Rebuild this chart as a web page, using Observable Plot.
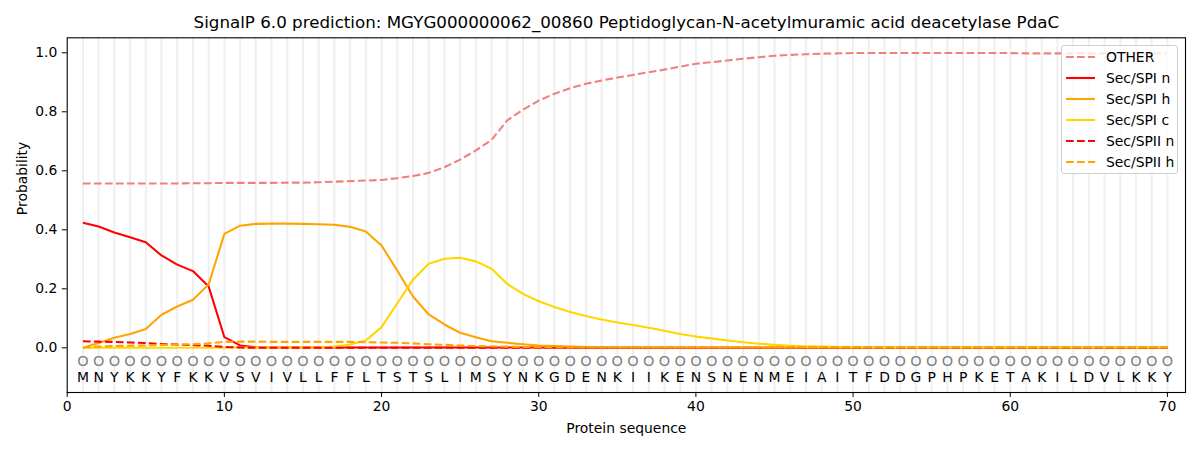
<!DOCTYPE html>
<html>
<head>
<meta charset="utf-8">
<script src="https://cdn.jsdelivr.net/npm/d3@7"></script>
<script src="https://cdn.jsdelivr.net/npm/@observablehq/plot@0.6"></script>
<style>
  body { margin: 0; background: #fff; font-family: "DejaVu Sans", sans-serif; }
  #wrap { position: relative; width: 1200px; height: 450px; }
  #legend { position: absolute; left: 1061px; top: 45px; width: 115px; height: 127px;
            border: 1px solid #d0d0d0; border-radius: 3px; background: rgba(255,255,255,0.8);
            font-family: "DejaVu Sans", sans-serif; font-size: 13.9px; color: #000; }
  .row { position: absolute; left: 0; height: 20px; display: flex; align-items: center; }
  .row svg { margin-left: 4px; margin-right: 11px; }
</style>
</head>
<body>
<div id="wrap"></div>
<script>
const title = "SignalP 6.0 prediction: MGYG000000062_00860 Peptidoglycan-N-acetylmuramic acid deacetylase PdaC";
const sequence = ["M","N","Y","K","K","Y","F","K","K","V","S","V","I","V","L","L","F","F","L","T",
  "S","T","S","L","I","M","S","Y","N","K","G","D","E","N","K","I","I","K","E","N",
  "S","N","E","N","M","E","I","A","I","T","F","D","D","G","P","H","P","K","E","T",
  "A","K","I","L","D","V","L","K","K","Y"];
const regionLabels = sequence.map(() => "O");
const seriesNames = ["OTHER", "Sec/SPI n", "Sec/SPI h", "Sec/SPI c", "Sec/SPII n", "Sec/SPII h"];

const other = [0.557,0.557,0.557,0.557,0.557,0.557,0.557,0.558,0.558,0.559,
  0.559,0.559,0.559,0.560,0.560,0.561,0.563,0.565,0.567,0.569,
  0.575,0.582,0.593,0.612,0.638,0.669,0.705,0.771,0.807,0.838,
  0.861,0.880,0.895,0.906,0.916,0.925,0.934,0.943,0.953,0.963,
  0.968,0.974,0.980,0.985,0.990,0.993,0.995,0.997,0.998,0.999,
  0.999,0.999,0.999,0.999,0.999,0.999,0.999,0.999,0.999,0.999,
  0.998,0.998,0.998,0.998,0.998,0.998,0.998,0.998,0.998,0.998];
const spiN = [0.424,0.411,0.391,0.375,0.358,0.313,0.282,0.260,0.208,0.036,
  0.008,0.002,0.001,0.001,0.001,0.001,0.001,0.001,0.001,0.001,
  0.001,0.001,0.001,0.001,0.001,0.001,0.001,0.001,0.001,0.001,
  0,0,0,0,0,0,0,0,0,0, 0,0,0,0,0,0,0,0,0,0, 0,0,0,0,0,0,0,0,0,0, 0,0,0,0,0,0,0,0,0,0];
const spiH = [0.000,0.016,0.034,0.047,0.064,0.112,0.140,0.163,0.215,0.386,
  0.414,0.420,0.421,0.421,0.420,0.419,0.417,0.410,0.394,0.347,
  0.262,0.174,0.113,0.079,0.051,0.036,0.022,0.017,0.012,0.008,
  0.006,0.004,0.003,0.002,0.001,0.001,0.001,0.001,0.001,0.001,
  0.001,0.001,0.001,0.001,0.001,0.001,0.001,0.001,0.001,0.001,
  0.001,0.001,0.001,0.001,0.001,0.001,0.001,0.001,0.001,0.001,
  0.001,0.001,0.001,0.001,0.001,0.001,0.001,0.001,0.001,0.001];
const spiC = [0.000,0.000,0.000,0.000,0.000,0.000,0.000,0.000,0.000,0.000,
  0.001,0.001,0.001,0.001,0.001,0.001,0.004,0.011,0.025,0.070,
  0.151,0.231,0.285,0.302,0.305,0.293,0.268,0.216,0.183,0.158,
  0.138,0.121,0.108,0.096,0.086,0.077,0.068,0.058,0.047,0.038,
  0.032,0.025,0.019,0.014,0.010,0.007,0.005,0.004,0.003,0.002,
  0.001,0.001,0.001,0.001,0.001,0.001,0.001,0.001,0.001,0.001,
  0.001,0.001,0.001,0.001,0.001,0.001,0.001,0.001,0.001,0.001];
const spiiN = [0.022,0.021,0.020,0.018,0.016,0.013,0.011,0.009,0.007,0.003,
  0.001,0,0,0,0,0,0,0,0,0, 0,0,0,0,0,0,0,0,0,0, 0,0,0,0,0,0,0,0,0,0,
  0,0,0,0,0,0,0,0,0,0, 0,0,0,0,0,0,0,0,0,0, 0,0,0,0,0,0,0,0,0,0];
const spiiH = [0.001,0.004,0.006,0.007,0.008,0.010,0.011,0.012,0.015,0.020,
  0.021,0.021,0.020,0.020,0.020,0.020,0.020,0.020,0.019,0.018,
  0.017,0.015,0.012,0.010,0.008,0.006,0.005,0.004,0.003,0.002,
  0.001,0.001,0.001,0.001,0.001,0.001,0.001,0.001,0.001,0.001,
  0.001,0.001,0.001,0.001,0.001,0.001,0.001,0.001,0.001,0.001,
  0.001,0.001,0.001,0.001,0.001,0.001,0.001,0.001,0.001,0.001,
  0.001,0.001,0.001,0.001,0.001,0.001,0.001,0.001,0.001,0.001];
const xTicks = [0, 10, 20, 30, 40, 50, 60, 70];
const yTicks = [0, 0.2, 0.4, 0.6, 0.8, 1.0];

// styles (kept separate from data)
const seriesValues = [other, spiN, spiH, spiC, spiiN, spiiH];
const styles = [
  {stroke: "#f08080", dash: "7.7,3.3"},
  {stroke: "#ff0000", dash: null},
  {stroke: "#ffa500", dash: null},
  {stroke: "#ffd700", dash: null},
  {stroke: "#ff0000", dash: "7.7,3.3"},
  {stroke: "#ffa500", dash: "7.7,3.3"}
];

const positions = sequence.map((_, i) => i + 1);
const seqTable = sequence.map((aa, i) => ({pos: i + 1, aa, region: regionLabels[i]}));

const lineMarks = seriesValues.map((vals, k) =>
  Plot.line(vals.map((v, i) => ({pos: i + 1, prob: v})), {
    x: "pos", y: "prob", stroke: styles[k].stroke, strokeWidth: 2.08,
    strokeDasharray: styles[k].dash, strokeLinejoin: "round", strokeLinecap: "butt"
  })
);

const chart = Plot.plot({
  width: 1200, height: 450,
  marginTop: 37.3, marginBottom: 58, marginLeft: 66.7, marginRight: 15,
  style: {fontFamily: "DejaVu Sans, sans-serif", background: "#fff", color: "#000"},
  x: {domain: [0, 71.15]},
  y: {domain: [-0.1515, 1.0508]},
  marks: [
    Plot.ruleX(positions, {x: d => d, stroke: "#efefef", strokeWidth: 2}),
    ...lineMarks,
    Plot.text(seqTable, {x: "pos", y: () => -0.046, text: "region", fill: "#808080", fontSize: 14.5}),
    Plot.text(seqTable, {x: "pos", y: () => -0.1, text: "aa", fill: "#000", fontSize: 13.9}),
    Plot.frame({stroke: "#000", strokeWidth: 1.1}),
    Plot.axisX({ticks: xTicks, tickSize: 4.9, tickPadding: 4, fontSize: 13.9, label: null}),
    Plot.axisY({ticks: yTicks, tickFormat: d3.format(".1f"), tickSize: 4.9, tickPadding: 5, fontSize: 13.9, label: null}),
    Plot.text([title], {text: d => d, frameAnchor: "top", dy: -15.3, lineAnchor: "middle", fontSize: 16.7}),
    Plot.text(["Protein sequence"], {text: d => d, frameAnchor: "bottom", dy: 36, lineAnchor: "middle", fontSize: 13.9}),
    Plot.text(["Probability"], {text: d => d, frameAnchor: "left", dx: -44.7, rotate: -90, lineAnchor: "middle", fontSize: 13.9})
  ]
});

const wrap = document.getElementById("wrap");
wrap.appendChild(chart);

// legend overlay
const legend = document.createElement("div");
legend.id = "legend";
seriesNames.forEach((name, k) => {
  const row = document.createElement("div");
  row.className = "row";
  row.style.top = (1.3 + k * 20.9) + "px";
  const dash = styles[k].dash ? `stroke-dasharray="${styles[k].dash}"` : "";
  row.innerHTML = `<svg width="29" height="10"><line x1="0" x2="29" y1="5" y2="5" stroke="${styles[k].stroke}" stroke-width="2.08" ${dash}/></svg><span>${name}</span>`;
  legend.appendChild(row);
});
wrap.appendChild(legend);
</script>
</body>
</html>
